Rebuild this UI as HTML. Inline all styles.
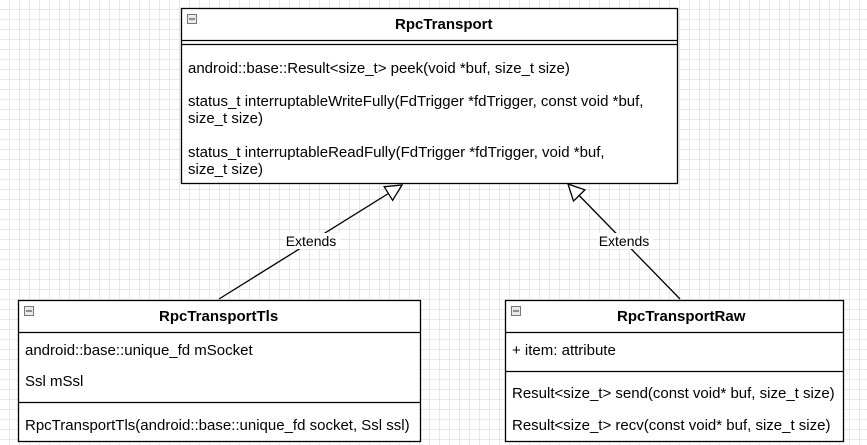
<!DOCTYPE html>
<html><head><meta charset="utf-8"><style>
body{margin:0;width:867px;height:445px;overflow:hidden;background:#fff;
background-image:linear-gradient(#e8e8e8 1px,transparent 1px),linear-gradient(90deg,#e8e8e8 1px,transparent 1px);background-size:10px 10px;background-position:-1px -1px}
svg{position:absolute;left:0;top:0}
text{font-family:"Liberation Sans",Arial,sans-serif;font-size:15px;fill:#000}
.b{font-weight:bold;font-size:15px}
</style></head><body>
<svg width="867" height="445" xmlns="http://www.w3.org/2000/svg">
<g stroke="#000" stroke-width="1.3" fill="#fff">
<rect x="181.5" y="8.5" width="496" height="175"/>
<rect x="18.5" y="300.5" width="402" height="141"/>
<rect x="505.5" y="300.5" width="338" height="141"/>
</g>
<g stroke="#000" stroke-width="1.3">
<line x1="181" y1="40.5" x2="678" y2="40.5"/>
<line x1="181" y1="44.5" x2="678" y2="44.5"/>
<line x1="18" y1="332.5" x2="421" y2="332.5"/>
<line x1="18" y1="402.5" x2="421" y2="402.5"/>
<line x1="505" y1="332.5" x2="844" y2="332.5"/>
<line x1="505" y1="371.5" x2="844" y2="371.5"/>
<line x1="219" y1="299" x2="388.4" y2="193.5"/>
<line x1="680" y1="299" x2="579.2" y2="195.5"/>
</g>
<polygon points="402,185 392.6,200.3 384.2,186.7" fill="#fff" stroke="#000" stroke-width="1.3"/>
<polygon points="568,184 584.9,189.9 573.5,201.1" fill="#fff" stroke="#000" stroke-width="1.3"/>
<g fill="#e8e8e8" stroke="#777" stroke-width="1">
<rect x="187.5" y="14.5" width="9" height="9"/><rect x="24.5" y="306.5" width="9" height="9"/><rect x="511.5" y="306.5" width="9" height="9"/>
</g>
<g stroke="#333" stroke-width="1"><line x1="189" y1="19" x2="195" y2="19"/><line x1="26" y1="311" x2="32" y2="311"/><line x1="513" y1="311" x2="519" y2="311"/></g>
<rect x="284" y="233" width="56" height="16" fill="#fff"/>
<rect x="597" y="233" width="56" height="16" fill="#fff"/>
<text x="311" y="246" text-anchor="middle" style="font-size:14px">Extends</text>
<text x="624" y="246" text-anchor="middle" style="font-size:14px">Extends</text>
<text class="b" x="395" y="29">RpcTransport</text>
<text x="188" y="73">android::base::Result&lt;size_t&gt; peek(void *buf, size_t size)</text>
<text x="188" y="106">status_t interruptableWriteFully(FdTrigger *fdTrigger, const void *buf,</text>
<text x="188" y="123">size_t size)</text>
<text x="188" y="157">status_t interruptableReadFully(FdTrigger *fdTrigger, void *buf,</text>
<text x="188" y="174">size_t size)</text>
<text class="b" x="159" y="321">RpcTransportTls</text>
<text x="25" y="355">android::base::unique_fd mSocket</text>
<text x="25" y="386">Ssl mSsl</text>
<text x="25" y="430">RpcTransportTls(android::base::unique_fd socket, Ssl ssl)</text>
<text class="b" x="617" y="321">RpcTransportRaw</text>
<text x="512" y="355">+ item: attribute</text>
<text x="512" y="398">Result&lt;size_t&gt; send(const void* buf, size_t size)</text>
<text x="512" y="430">Result&lt;size_t&gt; recv(const void* buf, size_t size)</text>
</svg>
</body></html>
